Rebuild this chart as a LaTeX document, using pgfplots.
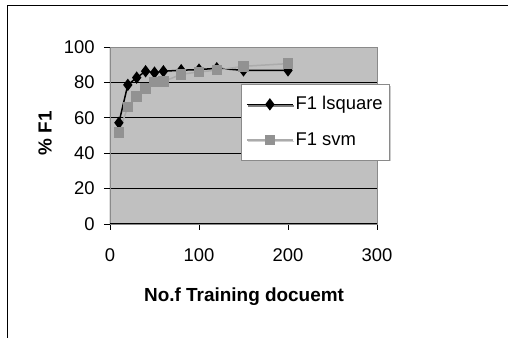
\documentclass[border=0pt]{standalone}
\usepackage{pgfplots}
\pgfplotsset{compat=1.18}
\usepackage{fontspec}
\setmainfont{Liberation Sans}
\usetikzlibrary{shadows}
\definecolor{plotbg}{HTML}{C0C0C0}
\definecolor{svmline}{HTML}{ABABAB}
\definecolor{svmmark}{HTML}{929292}
\definecolor{frameg}{HTML}{8A8A8A}
\begin{document}
\fontsize{18.5}{22}\selectfont
\begin{tikzpicture}
\useasboundingbox (0bp,0bp) rectangle (508bp,338bp);
\draw[black, line width=1bp] (7bp,0bp) -- (7bp,332bp) -- (508bp,332bp);
\begin{axis}[
  at={(110bp,114bp)}, anchor=south west,
  scale only axis, width=267bp, height=177bp,
  xmin=0, xmax=300, ymin=0, ymax=100,
  xtick={0,100,200,300}, ytick={0,20,40,60,80,100},
  xtick pos=bottom, ytick pos=left,
  tick align=outside, major tick length=6bp,
  tick style={black, line width=0.8bp},
  axis background/.style={fill=plotbg},
  axis line style={frameg, line width=0.8bp},
  ymajorgrids, grid style={black, line width=0.8bp},
  /pgf/number format/assume math mode=true,
  ticklabel style={font=\fontsize{18.5}{22}\selectfont},
  yticklabel style={xshift=-3bp},
  xticklabel style={yshift=-12bp},
  xlabel={\textbf{No.f Training docuemt}},
  ylabel={\textbf{\% F1}},
  xlabel style={at={(axis description cs:0.502,-0.412)}, anchor=center, font=\fontsize{19}{22}\selectfont},
  ylabel style={at={(axis description cs:-0.243,0.514)}, anchor=center, font=\fontsize{19}{22}\selectfont},
  legend style={at={(0.49,0.791)}, anchor=north west, fill=white, draw=frameg,
    line width=0.6bp, drop shadow={shadow xshift=1.5bp, shadow yshift=-1.5bp, fill=gray!80},
    font=\fontsize{18.5}{22}\selectfont, inner xsep=5bp, inner ysep=10bp, row sep=16bp,
    cells={anchor=west}},
  legend image code/.code={\draw[mark repeat=2,mark phase=2,#1] plot coordinates {(0bp,0bp) (23bp,0bp) (46bp,0bp)};},
]
\addplot[black, line width=1.5bp, mark=diamond*, mark size=5bp, mark options={solid, fill=black}]
 coordinates {(10,57.2) (20,78.6) (30,82.7) (40,86.3) (50,85.5) (60,86.3) (80,86.9) (100,87.2) (120,88.0) (150,86.8) (200,86.8)};
\addlegendentry{F1 lsquare}
\addplot[svmline, line width=1.5bp, mark=square*, mark size=4.5bp, mark options={solid, fill=svmmark, draw=svmmark}]
 coordinates {(10,51.6) (20,66.2) (30,71.9) (40,76.5) (50,80.3) (60,80.4) (80,84.6) (100,85.9) (120,86.9) (150,89.1) (200,90.6)};
\addlegendentry{F1 svm}
\draw[black, line width=1bp] (axis cs:0,0) -- (axis cs:0,100);
\draw[black, line width=1bp] (axis cs:0,0) -- (axis cs:300,0);
\draw[frameg, line width=0.8bp] (axis cs:0,100) -- (axis cs:300,100) -- (axis cs:300,0);
\end{axis}
\end{tikzpicture}
\end{document}
